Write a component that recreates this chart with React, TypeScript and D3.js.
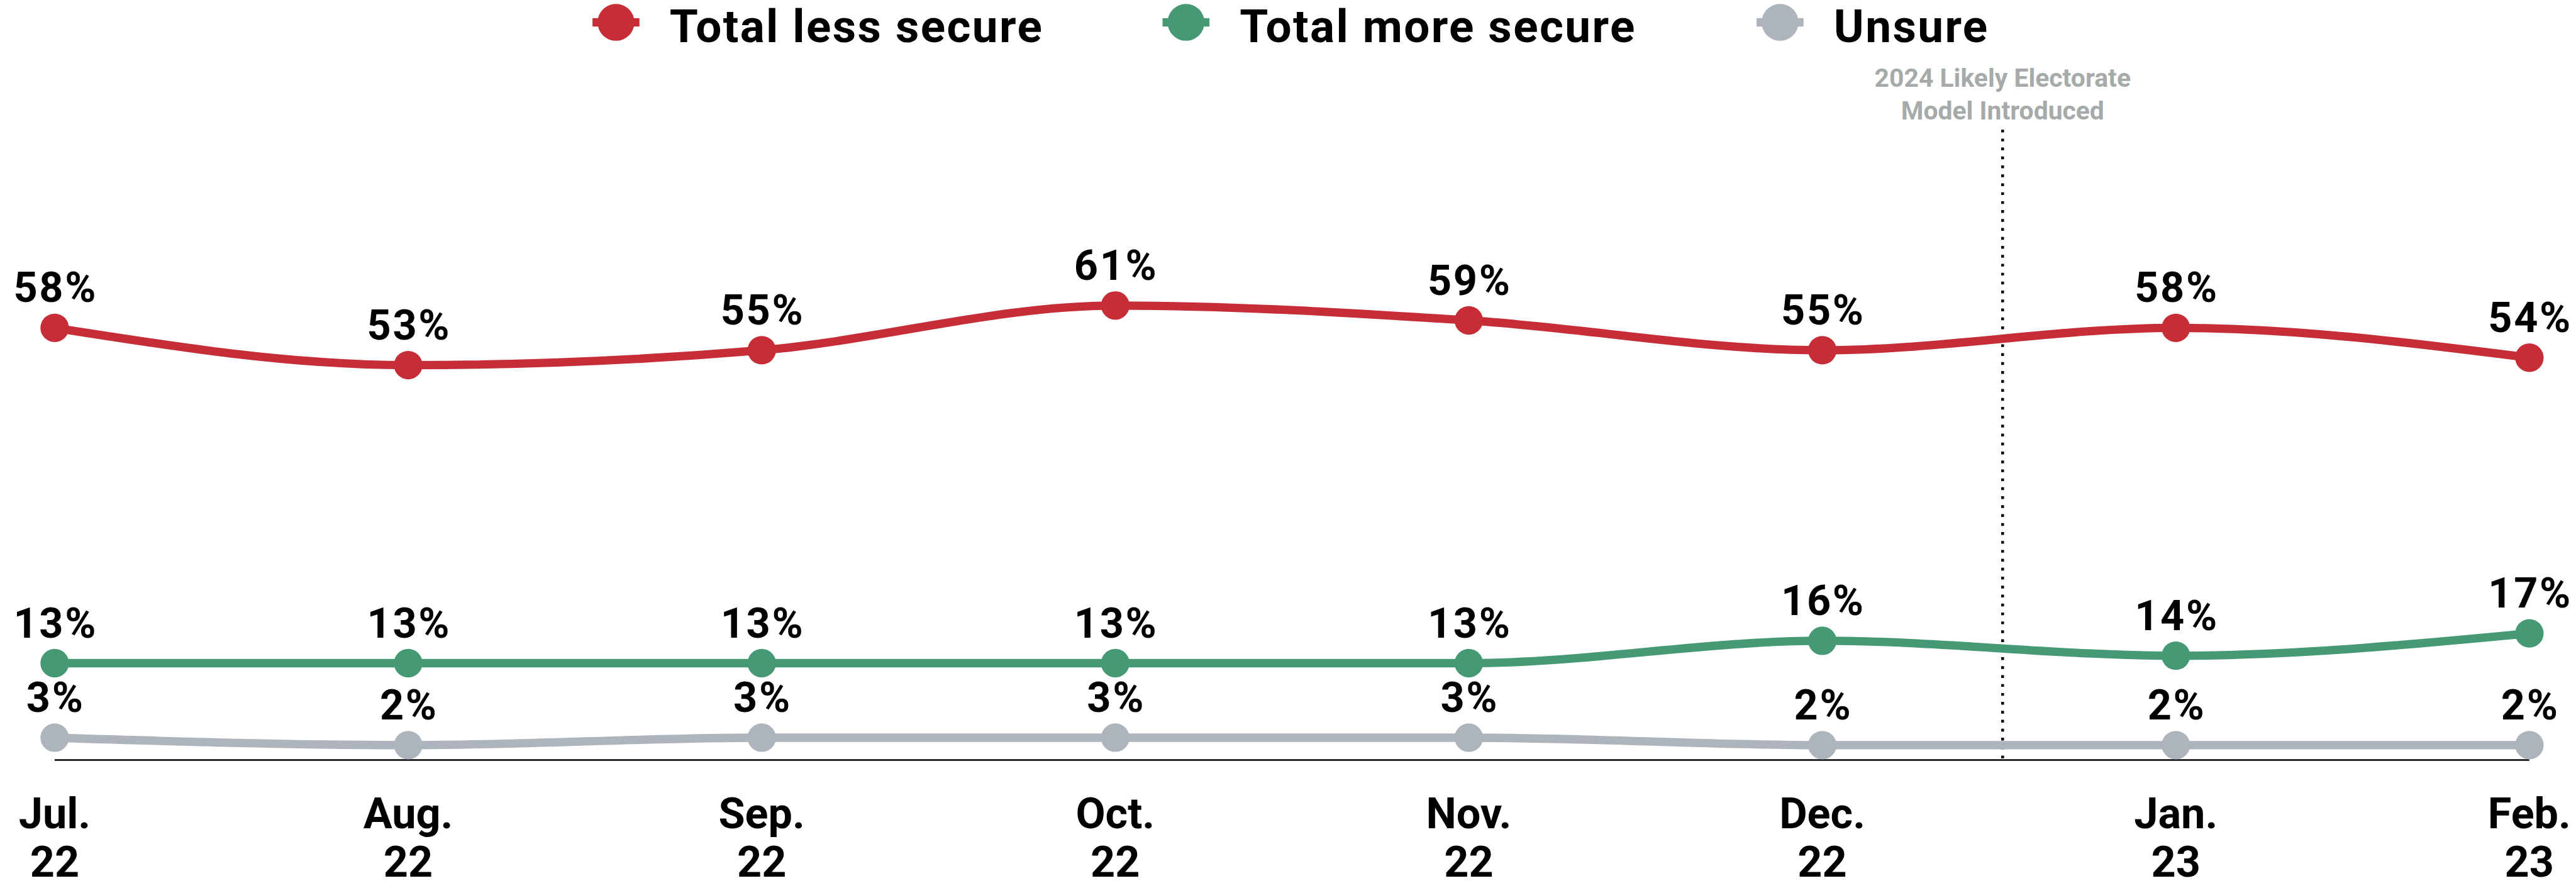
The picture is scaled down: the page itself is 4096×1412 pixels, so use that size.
import React from "react";
import * as d3 from "d3";

const months = ["Jul.", "Aug.", "Sep.", "Oct.", "Nov.", "Dec.", "Jan.", "Feb."];
const years = ["22", "22", "22", "22", "22", "22", "23", "23"];
const lessSecure = [58, 53, 55, 61, 59, 55, 58, 54];
const moreSecure = [13, 13, 13, 13, 13, 16, 14, 17];
const unsure = [3, 2, 3, 3, 3, 2, 2, 2];
const seriesNames = ["Total less secure", "Total more secure", "Unsure"];
const seriesColors = ["#C62D37", "#459974", "#AEB4BC"];
const annotationLines = ["2024 Likely Electorate", "Model Introduced"];

const W = 4609;
const H = 1589;
const FONT = "Roboto, 'Noto Sans', sans-serif";

export default function App() {
  const x = d3.scalePoint<string>().domain(months).range([97.6, 4525.8]);
  const y = d3.scaleLinear().domain([0, 100]).range([1360, 26.7]);

  const series = [lessSecure, moreSecure, unsure];
  const line = d3
    .line<number>()
    .x((_, i) => x(months[i]) as number)
    .y((d) => y(d))
    .curve(d3.curveMonotoneX);

  const xDec = x("Dec.") as number;
  const xJan = x("Jan.") as number;
  const annX = xDec + (xJan - xDec) * 0.51;

  const legendX = [1102, 2122, 3185];

  return (
    <svg
      width={4096}
      height={1412}
      viewBox={`0 0 ${W} ${H}`}
      style={{ position: "absolute", left: 0, top: 0, background: "#fff" }}
      fontFamily={FONT}
    >
      {/* legend */}
      {seriesNames.map((name, i) => (
        <g key={name} transform={`translate(${legendX[i]},40)`}>
          <rect x={-42} y={-7.5} width={84} height={15} fill={seriesColors[i]} />
          <circle r={33} fill={seriesColors[i]} />
          <text x={96} y={35} fontSize={82} fontWeight={700} letterSpacing={2.7} fill="#000">
            {name}
          </text>
        </g>
      ))}

      {/* annotation */}
      {annotationLines.map((t, i) => (
        <text
          key={t}
          x={annX}
          y={155 + i * 58.3}
          textAnchor="middle"
          fontSize={46}
          fontWeight={700}
          fill="#A6AAA9"
        >
          {t}
        </text>
      ))}
      <line
        x1={annX}
        x2={annX}
        y1={232}
        y2={y(0)}
        stroke="#000"
        strokeWidth={5}
        strokeDasharray="5 11"
      />

      {/* axis baseline */}
      <line
        x1={x(months[0])}
        x2={x(months[months.length - 1])}
        y1={y(0)}
        y2={y(0)}
        stroke="#000"
        strokeWidth={3}
      />

      {/* lines */}
      {series.map((s, si) => (
        <path
          key={si}
          d={line(s) || ""}
          fill="none"
          stroke={seriesColors[si]}
          strokeWidth={15}
          strokeLinejoin="round"
        />
      ))}

      {/* markers + labels */}
      {series.map((s, si) => (
        <g key={si}>
          {s.map((v, i) => (
            <g key={i}>
              <circle cx={x(months[i])} cy={y(v)} r={25.5} fill={seriesColors[si]} />
              <text
                x={(x(months[i]) as number) + 1.5}
                y={y(v) - 46}
                textAnchor="middle"
                fontSize={75}
                fontWeight={700}
                letterSpacing={3}
                fill="#000"
              >
                {v}%
              </text>
            </g>
          ))}
        </g>
      ))}

      {/* x labels */}
      {months.map((m, i) => (
        <g key={m + i}>
          <text
            x={x(m)}
            y={1482}
            textAnchor="middle"
            fontSize={77}
            fontWeight={700}
            fill="#000"
          >
            {m}
          </text>
          <text
            x={x(m)}
            y={1569}
            textAnchor="middle"
            fontSize={77}
            fontWeight={700}
            fill="#000"
          >
            {years[i]}
          </text>
        </g>
      ))}
    </svg>
  );
}
